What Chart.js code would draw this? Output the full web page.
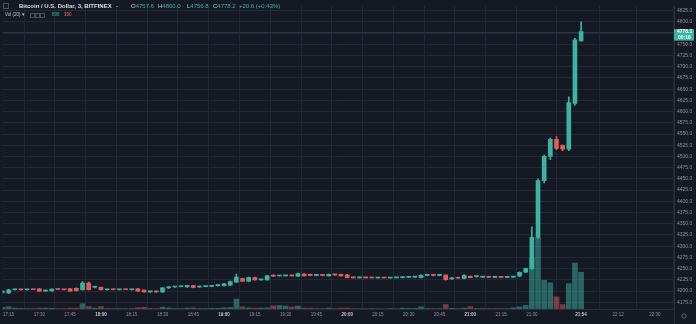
<!DOCTYPE html>
<html>
<head>
<meta charset="utf-8">
<script src="https://cdn.jsdelivr.net/npm/chart.js@4.4.1/dist/chart.umd.min.js"></script>
<style>
  html, body { margin: 0; padding: 0; background: #151924; }
  #wrap { position: relative; width: 696px; height: 324px; overflow: hidden; font-family: "Liberation Sans", Arial, sans-serif; }
  canvas { position: absolute; left: 0; top: 0; }
  .h { position: absolute; white-space: nowrap; line-height: 1; }
  .l1 { top: 3px; font-size: 6px; }
  .l2 { top: 13px; font-size: 4.5px; }
  .title { color: #d9dce3; font-weight: bold; }
  .k { color: #c3c6ce; }
  .v { color: #3bb3a1; }
  .sq { position: absolute; width: 4px; height: 4px; border: 1px solid #4a4f5c; }
</style>
</head>
<body>
<div id="wrap">
  <canvas id="chart" width="696" height="324"></canvas>
  <span class="sq" style="left:3px;top:3px;"></span>
  <span class="h l1 title" style="left:19px;">Bitcoin / U.S. Dollar, 3, BITFINEX</span>
  <span class="h l1 k" style="left:116px;">-</span>
  <span class="h l1" style="left:131px;"><span class="k">O</span><span class="v">4757.6</span></span>
  <span class="h l1" style="left:158px;"><span class="k">H</span><span class="v">4800.0</span></span>
  <span class="h l1" style="left:187px;"><span class="k">L</span><span class="v">4756.8</span></span>
  <span class="h l1" style="left:213px;"><span class="k">C</span><span class="v">4778.2</span></span>
  <span class="h l1 v" style="left:239px;">+20.6 (+0.43%)</span>
  <span class="h l2 k" style="left:5px;">Vol (20) &#9662;</span>
  <span class="sq" style="left:30px;top:13px;width:3px;height:3px;"></span>
  <span class="sq" style="left:35px;top:13px;width:3px;height:3px;"></span>
  <span class="sq" style="left:40px;top:13px;width:3px;height:3px;"></span>
  <span class="h l2 v" style="left:52px;">896</span>
  <span class="h l2" style="left:64px;color:#e0705e;">390</span>
</div>
<script>
// 3-minute bars, first one at 17:12
const firstBar = '17:12';
const opens = [
  4197, 4196, 4203, 4203.5, 4203, 4203.5, 4205, 4200, 4200.5, 4204,
  4203.5, 4205, 4206, 4203, 4218, 4208.5, 4208.5, 4203, 4203.5, 4203,
  4203.5, 4203, 4205, 4202, 4198, 4198.5, 4198, 4207, 4209, 4209.5,
  4209, 4212, 4209, 4210, 4210.5, 4212, 4212, 4213, 4220, 4228,
  4222, 4230, 4225, 4225, 4235.5, 4233.5, 4234, 4234.5, 4233, 4238,
  4237, 4235, 4235.5, 4234, 4236.5, 4237, 4236, 4230, 4229.5, 4230,
  4229.5, 4229, 4229.5, 4229, 4229.5, 4230, 4230.5, 4231, 4230, 4235,
  4235.5, 4235, 4235.5, 4227, 4230, 4228, 4233, 4232, 4231, 4231,
  4230.5, 4231, 4230.5, 4231, 4233, 4242, 4250, 4320, 4446, 4500,
  4538, 4524, 4516, 4618, 4757.6
];
const highs = [
  4201, 4204, 4204, 4204, 4204, 4204, 4206, 4203, 4205, 4205,
  4204, 4206, 4207, 4221, 4220, 4211, 4209, 4204, 4204, 4204,
  4204, 4204, 4206, 4203, 4199, 4199, 4208, 4210, 4210, 4211,
  4213, 4213, 4211, 4211, 4212, 4214, 4217, 4222, 4238, 4229,
  4231, 4231, 4226, 4235, 4236, 4235, 4235, 4235, 4240, 4239,
  4238, 4236, 4236, 4238, 4237, 4238, 4237, 4231, 4230.5, 4231,
  4230.5, 4230, 4230.5, 4230, 4230.5, 4231, 4232, 4232, 4236, 4236,
  4236, 4236, 4236, 4230, 4231, 4236, 4234, 4233.5, 4232, 4232,
  4231.5, 4232, 4231.5, 4233, 4243, 4251, 4343, 4450, 4503, 4541,
  4544, 4526, 4633, 4763, 4800
];
const lows = [
  4195, 4194, 4202, 4202, 4202, 4203, 4199, 4199, 4200, 4203,
  4202, 4199, 4200, 4202, 4202, 4207, 4202, 4202, 4202.5, 4202,
  4203, 4202, 4199, 4197, 4197, 4197, 4197, 4206, 4208, 4209,
  4208, 4207, 4208, 4209, 4210, 4211, 4211, 4212, 4219, 4221,
  4221, 4224, 4224, 4224, 4232, 4233, 4233, 4233, 4232, 4233,
  4234, 4234, 4234, 4233, 4235, 4233, 4229, 4229, 4229, 4229,
  4229, 4228.5, 4229, 4228.5, 4229, 4229, 4230, 4230, 4229, 4234,
  4234, 4234, 4224, 4226, 4228, 4227, 4229, 4231, 4230, 4230,
  4230, 4230, 4230, 4230, 4232, 4241, 4248, 4316, 4441, 4493,
  4515, 4513, 4513, 4614, 4756.8
];
const closes = [
  4200, 4203, 4203.5, 4203, 4203.5, 4203, 4200, 4202, 4204.5, 4203.5,
  4203, 4200, 4201, 4218, 4203, 4210.5, 4203, 4203.5, 4203, 4203.5,
  4203, 4203.5, 4200, 4198, 4198.5, 4198, 4207, 4209, 4209.5, 4210,
  4212.5, 4208, 4210, 4210.5, 4211.5, 4213, 4216, 4221, 4231, 4222,
  4230, 4225, 4225.5, 4234, 4233, 4234.5, 4234.5, 4234, 4239, 4234,
  4235, 4235.5, 4235, 4237, 4236, 4234, 4230, 4229.5, 4230, 4229.5,
  4229, 4229.5, 4229, 4229.5, 4230, 4230.5, 4231, 4232, 4235, 4235.5,
  4235, 4235.5, 4225.5, 4229, 4228.5, 4235, 4230, 4233, 4231.5, 4230.5,
  4231, 4230.5, 4231, 4232, 4242, 4250, 4320, 4446, 4500, 4538,
  4518, 4516, 4620, 4760, 4778.2
];
const volumes = [
  40, 55, 20, 15, 10, 10, 25, 20, 15, 10,
  10, 25, 20, 125, 60, 20, 60, 10, 10, 10,
  8, 8, 35, 40, 10, 10, 45, 30, 10, 10,
  20, 30, 10, 10, 15, 15, 30, 35, 245, 55,
  30, 20, 25, 30, 80, 85, 70, 45, 70, 25,
  20, 10, 10, 20, 10, 20, 25, 8, 6, 6,
  8, 6, 6, 8, 6, 20, 15, 15, 55, 10,
  10, 10, 110, 15, 10, 25, 60, 10, 10, 10,
  10, 10, 10, 30, 55, 90, 1250, 1750, 700, 640,
  300, 110, 620, 1120, 896
];
const timeLabels = ['17:15', '17:30', '17:45', '18:00', '18:15', '18:30', '18:45', '19:00', '19:15',
  '19:30', '19:45', '20:00', '20:15', '20:30', '20:45', '21:00', '21:15', '21:30', '21:54', '22:12', '22:30'];
const boldLabels = ['18:00', '19:00', '20:00', '21:00', '21:54'];
const priceTicks = [4175, 4200, 4225, 4250, 4275, 4300, 4325, 4350, 4375, 4400, 4425, 4450, 4475,
  4500, 4525, 4550, 4575, 4600, 4625, 4650, 4675, 4700, 4725, 4750, 4775, 4800, 4825];
const tagPrice = '4778.1';
const tagTimer = '00:18';

const upColor = '#3bb3a1';
const downColor = '#e25c5c';
const volUp = 'rgba(59,179,161,0.5)';
const volDown = 'rgba(226,92,92,0.5)';
const gridColor = '#222735';
const axisText = '#8d919b';
const family = '"Liberation Sans", Arial, sans-serif';

const toMin = (t) => { const [h, m] = t.split(':').map(Number); return h * 60 + m; };
const start = toMin(firstBar);
const fmtTime = (k) => {
  const m = start + Math.round(k) * 3;
  return Math.floor(m / 60) + ':' + String(m % 60).padStart(2, '0');
};
const isBold = (c) => !!(c && c.tick && boldLabels.includes(fmtTime(c.tick.value)));
const up = closes.map((c, k) => c >= opens[k]);

const priceTag = {
  id: 'priceTag',
  beforeDatasetsDraw(chart) {
    const { ctx, chartArea: a, scales: { y } } = chart;
    const py = Math.round(y.getPixelForValue(closes[closes.length - 1])) + 0.5;
    ctx.save();
    ctx.strokeStyle = '#283845';
    ctx.lineWidth = 1;
    ctx.beginPath();
    ctx.moveTo(a.left, py);
    ctx.lineTo(a.right, py);
    ctx.stroke();
    ctx.restore();
  },
  afterDraw(chart) {
    const { ctx, chartArea: a, scales: { y } } = chart;
    const py = y.getPixelForValue(closes[closes.length - 1]);
    ctx.save();
    ctx.fillStyle = upColor;
    ctx.fillRect(y.left, py - 2.5, 20, 11.5);
    ctx.fillStyle = '#ffffff';
    ctx.font = 'bold 5px ' + family;
    ctx.textBaseline = 'middle';
    ctx.fillText(tagPrice, y.left + 3, py + 0.5);
    ctx.fillText(tagTimer, y.left + 4, py + 6.5);
    // axis separator and settings icon
    ctx.strokeStyle = '#2a2e39';
    ctx.beginPath();
    ctx.moveTo(a.right + 0.5, a.bottom);
    ctx.lineTo(a.right + 0.5, 324);
    ctx.stroke();
    ctx.strokeStyle = '#5d616d';
    ctx.beginPath();
    ctx.arc(684, 316, 2.2, 0, Math.PI * 2);
    ctx.stroke();
    ctx.restore();
  }
};

new Chart(document.getElementById('chart'), {
  type: 'bar',
  data: {
    datasets: [
      {
        label: 'Volume',
        yAxisID: 'yv',
        data: volumes.map((v, k) => ({ x: k, y: v })),
        backgroundColor: up.map(u => (u ? volUp : volDown)),
        barThickness: 5,
        grouped: false,
        order: 3
      },
      {
        label: 'Wick',
        yAxisID: 'y',
        data: lows.map((l, k) => ({ x: k, y: [l, highs[k]] })),
        backgroundColor: up.map(u => (u ? upColor : downColor)),
        barThickness: 1,
        minBarLength: 1,
        grouped: false,
        order: 2
      },
      {
        label: 'Body',
        yAxisID: 'y',
        data: opens.map((o, k) => ({ x: k, y: [o, closes[k]] })),
        backgroundColor: up.map(u => (u ? upColor : downColor)),
        barThickness: 4,
        minBarLength: 1,
        grouped: false,
        order: 1
      }
    ]
  },
  options: {
    responsive: false,
    animation: false,
    devicePixelRatio: 1,
    layout: { padding: 0, autoPadding: false },
    plugins: { legend: { display: false }, tooltip: { enabled: false } },
    scales: {
      x: {
        type: 'linear',
        min: 0.03,
        max: 109.09,
        offset: false,
        afterFit: s => { s.height = 15; },
        afterBuildTicks: s => { s.ticks = timeLabels.map(t => ({ value: (toMin(t) - start) / 3 })); },
        grid: { color: gridColor, drawTicks: false },
        border: { display: true, color: '#2a2e39' },
        ticks: {
          padding: 3,
          maxRotation: 0,
          autoSkip: false,
          callback: v => fmtTime(v),
          color: c => (isBold(c) ? '#c3c6ce' : axisText),
          font: c => ({ size: 4.5, family, weight: isBold(c) ? 'bold' : 'normal' })
        }
      },
      y: {
        type: 'linear',
        position: 'right',
        min: 4160,
        max: 4835.3,
        afterFit: s => { s.width = 22; },
        afterBuildTicks: s => { s.ticks = priceTicks.map(v => ({ value: v })); },
        grid: { color: gridColor, drawTicks: false },
        border: { display: true, color: '#2a2e39' },
        ticks: {
          padding: 3,
          autoSkip: false,
          color: axisText,
          font: { size: 5, family },
          callback: v => v.toFixed(1)
        }
      },
      yv: { type: 'linear', display: false, min: 0, max: 7400 }
    }
  },
  plugins: [priceTag]
});
</script>
</body>
</html>
